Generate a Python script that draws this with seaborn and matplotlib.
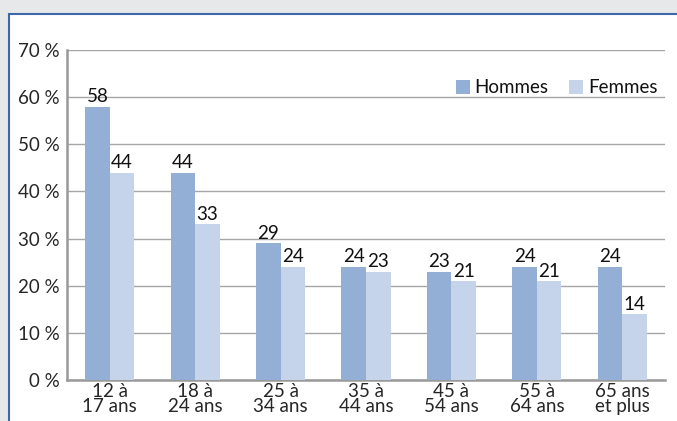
import numpy as np
import pandas as pd
import seaborn as sns
import matplotlib.pyplot as plt
from matplotlib.patches import Rectangle

# data
groupes = ['12 à\n17 ans', '18 à\n24 ans', '25 à\n34 ans', '35 à\n44 ans',
           '45 à\n54 ans', '55 à\n64 ans', '65 ans\net plus']
hommes = [58, 44, 29, 24, 23, 24, 24]
femmes = [44, 33, 24, 23, 21, 21, 14]
series = ['Hommes', 'Femmes']
couleurs = ['#93afd6', '#c5d4ea']

df = pd.DataFrame({
    'groupe': groupes * 2,
    'sexe': ['Hommes'] * len(groupes) + ['Femmes'] * len(groupes),
    'valeur': hommes + femmes,
})

sns.set_style('white')
plt.rcParams['font.family'] = ['Lato', 'DejaVu Sans']
fs = 13.5

fig = plt.figure(figsize=(6.77, 4.21), dpi=100)
fig.patch.set_facecolor('#e7e8ea')

# white panel with blue border
panel = Rectangle((9 / 677, -0.05), 1.0, 1 - 14 / 421 + 0.05, transform=fig.transFigure,
                  facecolor='white', edgecolor='#3d66ab', linewidth=1.5, zorder=-10)
fig.patches.append(panel)

ax = fig.add_axes([67 / 677, 1 - 380 / 421, (665 - 67) / 677, (380 - 50) / 421])
ax.set_facecolor('none')

sns.barplot(data=df, x='groupe', y='valeur', hue='sexe', hue_order=series,
            palette=couleurs, width=0.575, saturation=1, linewidth=0, ax=ax, zorder=3)

for cont in ax.containers:
    ax.bar_label(cont, fmt='%d', fontsize=fs, padding=1, color='#111111')

ax.set_ylim(0, 70)
ax.set_xlim(-0.5, len(groupes) - 0.5)
ax.set_yticks(np.arange(0, 71, 10))
ax.set_yticklabels([f'{v} %' for v in range(0, 71, 10)], fontsize=fs)
ax.yaxis.grid(True, color='#a6a6a6', linewidth=1, zorder=0)
ax.set_axisbelow(True)

ax.set_xticks(range(len(groupes)))
ax.set_xticklabels(groupes, fontsize=fs, linespacing=0.9)
ax.tick_params(axis='x', length=0, pad=2)
ax.set_xticks(np.arange(-0.5, len(groupes), 1), minor=True)
ax.tick_params(axis='x', which='minor', length=5, color='#888888', direction='out', width=1.2)
ax.tick_params(axis='y', length=4, color='#888888', direction='out', pad=1, width=1.2)

ax.set_xlabel('')
ax.set_ylabel('')
for s in ['top', 'right']:
    ax.spines[s].set_visible(False)
for s in ['left', 'bottom']:
    ax.spines[s].set_color('#999999')
    ax.spines[s].set_linewidth(1.8)

leg = ax.legend(loc='center right', bbox_to_anchor=(1.0, 0.885), ncol=2, frameon=False,
                fontsize=fs, handlelength=0.75, handleheight=0.75, handletextpad=0.25,
                columnspacing=1.1, borderaxespad=0)
for t in leg.get_texts():
    t.set_color('#111111')

fig.savefig('out.png', dpi=100, facecolor=fig.get_facecolor())
